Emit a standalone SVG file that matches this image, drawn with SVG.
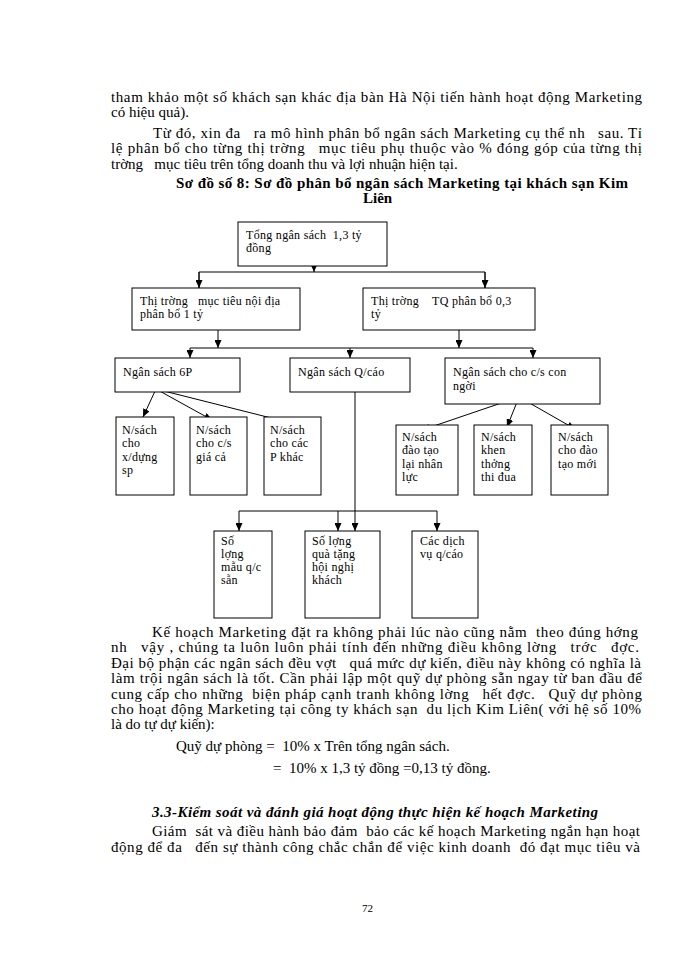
<svg xmlns="http://www.w3.org/2000/svg" width="700" height="960" viewBox="0 0 700 960" xml:space="preserve">
<style>
.t{font-family:"Liberation Serif","Times New Roman",serif;font-size:15px;fill:#000;white-space:pre}
.h{font-weight:bold}
.hi{font-weight:bold;font-style:italic}
.n{font-family:"Liberation Serif","Times New Roman",serif;font-size:12px;letter-spacing:0.3px;fill:#000;white-space:pre}
.box{fill:#fff;stroke:#000;stroke-width:1}
.c{fill:none;stroke:#000;stroke-width:1}
.pg{font-family:"Liberation Serif","Times New Roman",serif;font-size:11px;fill:#000}
</style>
<defs>
<marker id="ah" markerUnits="userSpaceOnUse" markerWidth="8" markerHeight="7" refX="8" refY="3.5" orient="auto"><path d="M0,0 L8,3.5 L0,7 z" fill="#000"/></marker>
</defs>
<rect width="700" height="960" fill="#fff"/>
<g id="text-top">
<text class="t" x="111" y="102" textLength="531" lengthAdjust="spacing">tham khảo một số khách sạn khác địa bàn Hà Nội tiến hành hoạt động Marketing</text>
<text class="t" x="111" y="117">có hiệu quả).</text>
<text class="t" x="153" y="138" textLength="489" lengthAdjust="spacing">Từ đó, xin đa   ra mô hình phân bổ ngân sách Marketing cụ thể nh   sau. Tỉ</text>
<text class="t" x="111" y="153" textLength="531" lengthAdjust="spacing">lệ phân bổ cho từng thị trờng   mục tiêu phụ thuộc vào % đóng góp của từng thị</text>
<text class="t" x="111" y="169">trờng   mục tiêu trên tổng doanh thu và lợi nhuận hiện tại.</text>
<text class="t h" x="176" y="188" textLength="452" lengthAdjust="spacing">Sơ đồ số 8: Sơ đồ phân bổ ngân sách Marketing tại khách sạn Kim</text>
<text class="t h" x="363" y="203">Liên</text>
</g>
<g id="connectors">
<line class="c" x1="314" y1="258" x2="314" y2="272" marker-end="url(#ah)"/>
<polyline class="c" points="199,288 199,272 485,272 485,288"/>
<line class="c" x1="199" y1="272" x2="199" y2="288" marker-end="url(#ah)"/>
<line class="c" x1="485" y1="272" x2="485" y2="288" marker-end="url(#ah)"/>
<line class="c" x1="218" y1="322" x2="218" y2="348" marker-end="url(#ah)"/>
<line class="c" x1="459" y1="322" x2="459" y2="348" marker-end="url(#ah)"/>
<line class="c" x1="190" y1="348" x2="533" y2="348"/>
<line class="c" x1="190" y1="348" x2="190" y2="358" marker-end="url(#ah)"/>
<line class="c" x1="350" y1="348" x2="350" y2="358" marker-end="url(#ah)"/>
<line class="c" x1="533" y1="348" x2="533" y2="358" marker-end="url(#ah)"/>
<line class="c" x1="156" y1="389" x2="143" y2="417" marker-end="url(#ah)"/>
<line class="c" x1="156" y1="389" x2="212" y2="420" marker-end="url(#ah)"/>
<line class="c" x1="156" y1="389" x2="287" y2="422" marker-end="url(#ah)"/>
<line class="c" x1="519" y1="397" x2="422" y2="430" marker-end="url(#ah)"/>
<line class="c" x1="519" y1="397" x2="507" y2="427" marker-end="url(#ah)"/>
<line class="c" x1="519" y1="397" x2="575" y2="429" marker-end="url(#ah)"/>
<line class="c" x1="355" y1="387" x2="355" y2="531" marker-end="url(#ah)"/>
<line class="c" x1="239" y1="511" x2="437" y2="511"/>
<line class="c" x1="239" y1="511" x2="239" y2="531" marker-end="url(#ah)"/>
<line class="c" x1="338" y1="511" x2="338" y2="531" marker-end="url(#ah)"/>
<line class="c" x1="437" y1="511" x2="437" y2="531" marker-end="url(#ah)"/>
</g>
<g id="n-tong"><rect class="box" x="238" y="222" width="149" height="44"/><text class="n" x="246" y="239">Tổng ngân sách  1,3 tỷ</text><text class="n" x="246" y="252">đồng</text></g>
<g id="n-noidia"><rect class="box" x="132" y="288" width="168" height="42"/><text class="n" x="140" y="305">Thị trờng   mục tiêu nội địa</text><text class="n" x="140" y="318">phân bổ 1 tỷ</text></g>
<g id="n-tq"><rect class="box" x="363" y="288" width="172" height="42"/><text class="n" x="371" y="305">Thị trờng    TQ phân bổ 0,3</text><text class="n" x="371" y="318">tỷ</text></g>
<g id="n-6p"><rect class="box" x="115" y="358" width="125" height="34"/><text class="n" x="123" y="376">Ngân sách 6P</text></g>
<g id="n-qc"><rect class="box" x="290" y="358" width="120" height="34"/><text class="n" x="298" y="376">Ngân sách Q/cáo</text></g>
<g id="n-connguoi"><rect class="box" x="445" y="358" width="155" height="46"/><text class="n" x="453" y="376">Ngân sách cho c/s con</text><text class="n" x="453" y="390">ngời</text></g>
<g id="n-xdung"><rect class="box" x="116" y="417" width="58" height="78"/><text class="n" x="122" y="434">N/sách</text><text class="n" x="122" y="447">cho</text><text class="n" x="122" y="461">x/dựng</text><text class="n" x="122" y="474">sp</text></g>
<g id="n-giaca"><rect class="box" x="190" y="417" width="57" height="78"/><text class="n" x="196" y="434">N/sách</text><text class="n" x="196" y="447">cho c/s</text><text class="n" x="196" y="461">giá cả</text></g>
<g id="n-pkhac"><rect class="box" x="264" y="417" width="57" height="78"/><text class="n" x="270" y="434">N/sách</text><text class="n" x="270" y="447">cho các</text><text class="n" x="270" y="461">P khác</text></g>
<g id="n-daotaolai"><rect class="box" x="396" y="425" width="62" height="70"/><text class="n" x="402" y="441">N/sách</text><text class="n" x="402" y="454">đào tạo</text><text class="n" x="402" y="468">lại nhân</text><text class="n" x="402" y="481">lực</text></g>
<g id="n-khenthuong"><rect class="box" x="474" y="425" width="58" height="70"/><text class="n" x="481" y="441">N/sách</text><text class="n" x="481" y="454">khen</text><text class="n" x="481" y="468">thởng</text><text class="n" x="481" y="481">thi đua</text></g>
<g id="n-daotaomoi"><rect class="box" x="551" y="425" width="57" height="70"/><text class="n" x="558" y="441">N/sách</text><text class="n" x="558" y="454">cho đào</text><text class="n" x="558" y="468">tạo mới</text></g>
<g id="n-mau"><rect class="box" x="214" y="531" width="58" height="87"/><text class="n" x="221" y="545">Số</text><text class="n" x="221" y="558">lợng</text><text class="n" x="221" y="571">mẫu q/c</text><text class="n" x="221" y="584">sẵn</text></g>
<g id="n-quatang"><rect class="box" x="305" y="531" width="75" height="87"/><text class="n" x="312" y="545">Số lợng</text><text class="n" x="312" y="558">quà tặng</text><text class="n" x="312" y="571">hội nghị</text><text class="n" x="312" y="584">khách</text></g>
<g id="n-dichvu"><rect class="box" x="412" y="531" width="66" height="87"/><text class="n" x="420" y="545">Các dịch</text><text class="n" x="420" y="558">vụ q/cáo</text></g>
<g id="text-bottom">
<text class="t" x="152" y="637" textLength="486" lengthAdjust="spacing">Kế hoạch Marketing đặt ra không phải lúc nào cũng nằm  theo đúng hớng</text>
<text class="t" x="111" y="652" textLength="528" lengthAdjust="spacing">nh   vậy , chúng ta luôn luôn phải tính đến những điều không lờng   trớc   đợc.</text>
<text class="t" x="111" y="668" textLength="530" lengthAdjust="spacing">Đại bộ phận các ngân sách đều vợt   quá mức dự kiến, điều này không có nghĩa là</text>
<text class="t" x="111" y="683" textLength="531" lengthAdjust="spacing">làm trội ngân sách là tốt. Cần phải lập một quỹ dự phòng sẵn ngay từ ban đầu để</text>
<text class="t" x="111" y="699" textLength="531" lengthAdjust="spacing">cung cấp cho những  biện pháp cạnh tranh không lờng   hết đợc.   Quỹ dự phòng</text>
<text class="t" x="111" y="714" textLength="530" lengthAdjust="spacing">cho hoạt động Marketing tại công ty khách sạn  du lịch Kim Liên( với hệ số 10%</text>
<text class="t" x="111" y="729">là do tự dự kiến):</text>
<text class="t" x="176" y="751">Quỹ dự phòng =  10% x Trên tổng ngân sách.</text>
<text class="t" x="273" y="773">=  10% x 1,3 tỷ đồng =0,13 tỷ đồng.</text>
<text class="t hi" x="152" y="817" textLength="446" lengthAdjust="spacing">3.3-Kiểm soát và đánh giá hoạt động thực hiện kế hoạch Marketing</text>
<text class="t" x="152" y="836" textLength="488" lengthAdjust="spacing">Giám  sát và điều hành bảo đảm  bảo các kế hoạch Marketing ngắn hạn hoạt</text>
<text class="t" x="111" y="852" textLength="529" lengthAdjust="spacing">động để đa   đến sự thành công chắc chắn để việc kinh doanh  đó đạt mục tiêu và</text>
<text class="pg" x="362" y="912">72</text>
</g>
</svg>
